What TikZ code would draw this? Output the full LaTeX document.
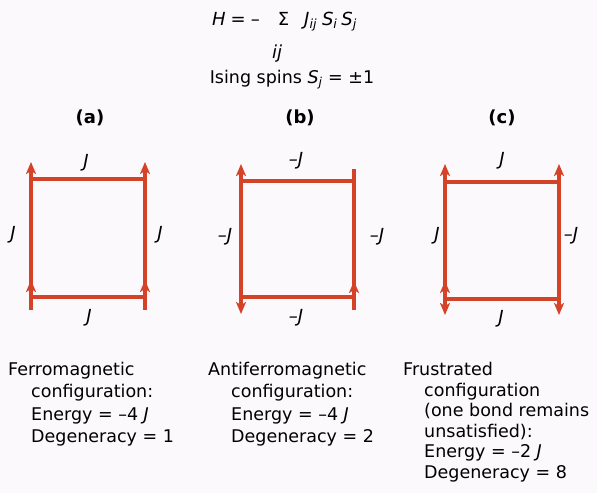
\documentclass[tikz,border=0pt]{standalone}
\usepackage{fontspec}
\setmainfont{DejaVu Sans}
\usetikzlibrary{arrows.meta, positioning}
\definecolor{bondred}{RGB}{212,66,40}
\definecolor{paper}{RGB}{252,249,252}

\begin{document}
\begin{tikzpicture}[x=1pt, y=-1pt,
    bond/.style={draw=bondred, line width=3.4pt},
    spin/.style={draw=bondred, line width=3.2pt,
                 -{Stealth[length=12pt, width=10pt, inset=3pt]}},
    dspin/.style={spin, {Stealth[length=12pt, width=10pt, inset=3pt]}-{Stealth[length=12pt, width=10pt, inset=3pt]}},
    stub/.style={draw=bondred, line width=3.2pt},
    lbl/.style={font=\fontsize{18}{20}\selectfont\itshape, inner sep=1pt},
    hdr/.style={font=\fontsize{18}{20}\selectfont\bfseries, inner sep=1pt},
    eqn/.style={font=\fontsize{18}{20}\selectfont, inner sep=0pt, anchor=base},
    desc/.style={font=\fontsize{17.5}{22.3}\selectfont, align=left,
                 anchor=north west, inner sep=0pt}
  ]
    \fill[paper] (0,0) rectangle (597,493);
    \useasboundingbox (0,0) rectangle (597,493);

    % Hamiltonian
    \node[eqn, anchor=base west] (ham) at (212,25) {\textit{H}\hspace{5pt}=\hspace{5pt}–\hspace{18pt}Σ\hspace{15pt}\textit{J}\textsubscript{\textit{ij}}\hspace{5pt}\textit{S}\textsubscript{\textit{i}}\hspace{4pt}\textit{S}\textsubscript{\textit{j}}};
    \node[eqn] (idx) at (277,58) {\textit{ij}};
    \node[eqn, font=\fontsize{17.5}{20}\selectfont] (ising) at (292,83) {Ising spins \textit{S}\textsubscript{\textit{j}} = ±1};

    % panel headers
    \node[hdr] (ha) at (90,118) {(a)};
    \node[hdr] (hb) at (300,118) {(b)};
    \node[hdr] (hc) at (502,118) {(c)};

    % (a) ferromagnetic plaquette
    \coordinate (aTL) at (31,179);  \coordinate (aTR) at (145,179);
    \coordinate (aBL) at (31,297);  \coordinate (aBR) at (145,297);
    \draw[bond] (aTL) -- (aTR) -- (aBR) -- (aBL) -- cycle;
    \draw[spin] ([yshift=-13pt]aTL) -- ([yshift=17pt]aTL);
    \draw[spin] ([yshift=-13pt]aTR) -- ([yshift=17pt]aTR);
    \draw[spin] ([yshift=-13pt]aBL) -- ([yshift=17pt]aBL);
    \draw[spin] ([yshift=-13pt]aBR) -- ([yshift=17pt]aBR);
    \node[lbl] (aJt) at (86,163) {J};
    \node[lbl] (aJl) at (13,235) {J};
    \node[lbl] (aJr) at (160,235) {J};
    \node[lbl] (aJb) at (89,318) {J};

    % (b) antiferromagnetic plaquette
    \coordinate (bTL) at (241,181); \coordinate (bTR) at (354,181);
    \coordinate (bBL) at (241,297); \coordinate (bBR) at (354,297);
    \draw[bond] (bTL) -- (bTR) -- (bBR) -- (bBL) -- cycle;
    \draw[spin] ([yshift=-13pt]bTL) -- ([yshift=17pt]bTL);
    \draw[stub] (bTR) -- ([yshift=12pt]bTR);
    \draw[spin] ([yshift=13pt]bBL) -- ([yshift=-17pt]bBL);
    \draw[spin] ([yshift=-13pt]bBR) -- ([yshift=16pt]bBR);
    \node[lbl] (bJt) at (296,161) {–J};
    \node[lbl] (bJl) at (225,237) {–J};
    \node[lbl] (bJr) at (377,237) {–J};
    \node[lbl] (bJb) at (296,318) {–J};

    % (c) frustrated plaquette
    \coordinate (cTL) at (445,182); \coordinate (cTR) at (559,182);
    \coordinate (cBL) at (445,299); \coordinate (cBR) at (559,299);
    \draw[bond] (cTL) -- (cTR) -- (cBR) -- (cBL) -- cycle;
    \draw[spin] ([yshift=-13pt]cTL) -- ([yshift=18pt]cTL);
    \draw[spin] ([yshift=-13pt]cTR) -- ([yshift=18pt]cTR);
    \draw[dspin] ([yshift=-16pt]cBL) -- ([yshift=18pt]cBL);
    \draw[spin] ([yshift=13pt]cBR) -- ([yshift=-16pt]cBR);
    \node[lbl] (cJt) at (502,161) {J};
    \node[lbl] (cJl) at (437,236) {J};
    \node[lbl] (cJr) at (571,236) {–J};
    \node[lbl] (cJb) at (501,319) {J};

    % captions
    \node[desc] (capa) at (8,362) {Ferromagnetic\\
      \hspace*{23pt}configuration:\\
      \hspace*{23pt}Energy = –4 \textit{J}\\
      \hspace*{23pt}Degeneracy = 1};
    \node[desc] (capb) at (208,362) {Antiferromagnetic\\
      \hspace*{23pt}configuration:\\
      \hspace*{23pt}Energy = –4 \textit{J}\\
      \hspace*{23pt}Degeneracy = 2};
    \node[desc, font=\fontsize{17.5}{20.5}\selectfont] (capc) at (403,362) {Frustrated\\
      \hspace*{21pt}configuration\\
      \hspace*{21pt}(one bond remains\\
      \hspace*{21pt}unsatisfied):\\
      \hspace*{21pt}Energy = –2 \textit{J}\\
      \hspace*{21pt}Degeneracy = 8};
  \end{tikzpicture}
\end{document}
